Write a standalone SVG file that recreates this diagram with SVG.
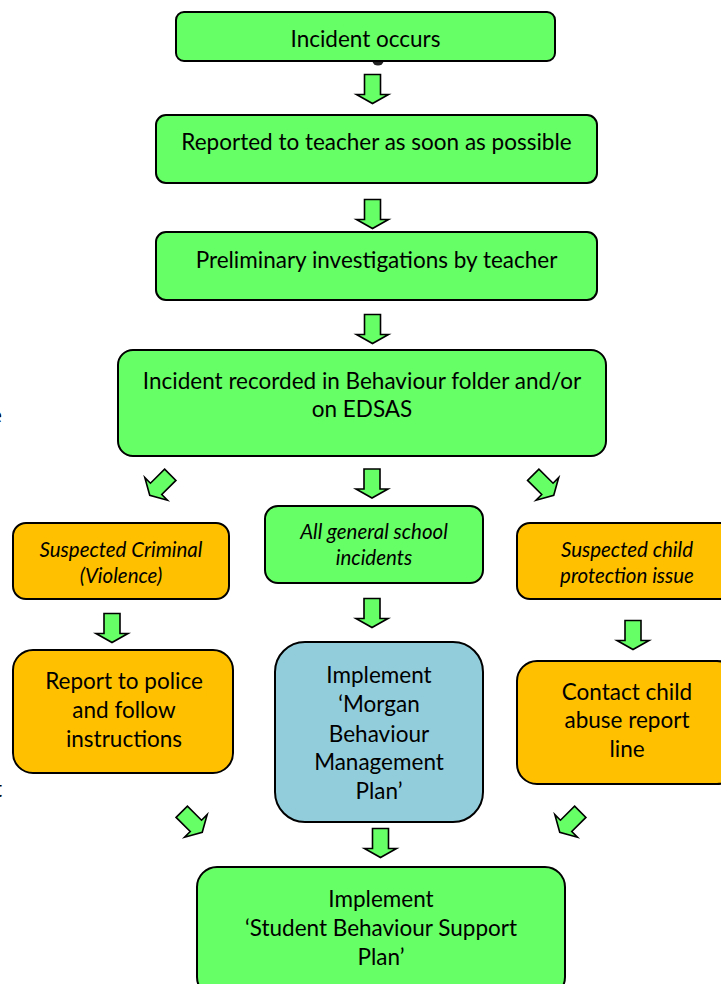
<svg xmlns="http://www.w3.org/2000/svg" width="721" height="984" viewBox="0 0 721 984">
<style>
.g{fill:#66FF66;stroke:#000;stroke-width:2}
.o{fill:#FFC000;stroke:#000;stroke-width:2}
.b{fill:#92CDDC;stroke:#000;stroke-width:2}
text{font-family:Lato,"Open Sans","Liberation Sans",sans-serif;fill:#000;text-anchor:middle}
.t{font-size:22.5px}
.i{font-size:20.5px;font-style:italic}
.s{text-anchor:start}
.arr{fill:#66FF66;stroke:#000;stroke-width:1.6;stroke-linejoin:miter}
</style>
<defs>
<path id="dn" class="arr" d="M-8,-14.5 H8 V5.5 H16 L0,14.5 L-16,5.5 H-8 Z"/>
</defs>
<rect width="721" height="984" fill="#fff"/>
<text class="t s" x="-10" y="423">e</text>
<text class="t s" x="-6" y="797">t</text>
<g id="connectors">
<ellipse cx="378" cy="61" rx="5.5" ry="4.5" fill="#222"/>
<use href="#dn" transform="translate(372.5,89)"/>
<use href="#dn" transform="translate(372.5,214)"/>
<use href="#dn" transform="translate(372.5,329)"/>
<use href="#dn" transform="translate(372,483.5)"/>
<use href="#dn" transform="translate(160,485) rotate(45)"/>
<use href="#dn" transform="translate(543.5,485) rotate(-45)"/>
<use href="#dn" transform="translate(112,628)"/>
<use href="#dn" transform="translate(372,613)"/>
<use href="#dn" transform="translate(633,635)"/>
<use href="#dn" transform="translate(192,822) rotate(-45)"/>
<use href="#dn" transform="translate(570,822) rotate(45)"/>
<use href="#dn" transform="translate(380.5,843)"/>
</g>
<g id="incident">
<rect class="g" x="176" y="12" width="379" height="49" rx="8"/>
<text class="t" x="365.5" y="47">Incident occurs</text>
</g>
<g id="reported">
<rect class="g" x="156" y="115" width="441" height="68" rx="10"/>
<text class="t" x="376.5" y="150">Reported to teacher as soon as possible</text>
</g>
<g id="preliminary">
<rect class="g" x="156" y="232" width="441" height="68" rx="10"/>
<text class="t" x="376.5" y="268">Preliminary investigations by teacher</text>
</g>
<g id="recorded">
<rect class="g" x="118" y="350" width="488" height="106" rx="15"/>
<text class="t" x="362" y="389">Incident recorded in Behaviour folder and/or</text>
<text class="t" x="362" y="417">on EDSAS</text>
</g>
<g id="criminal">
<rect class="o" x="13" y="523" width="216" height="76" rx="13"/>
<text class="i" x="121" y="557">Suspected Criminal</text>
<text class="i" x="121" y="583">(Violence)</text>
</g>
<g id="general">
<rect class="g" x="265" y="506" width="218" height="77" rx="13"/>
<text class="i" x="374" y="539">All general school</text>
<text class="i" x="374" y="565">incidents</text>
</g>
<g id="childprotection">
<rect class="o" x="517" y="523" width="220" height="76" rx="13"/>
<text class="i" x="627" y="557">Suspected child</text>
<text class="i" x="627" y="583">protection issue</text>
</g>
<g id="police">
<rect class="o" x="13" y="650" width="220" height="123" rx="20"/>
<text class="t" x="124" y="689">Report to police</text>
<text class="t" x="124" y="718">and follow</text>
<text class="t" x="124" y="747">instructions</text>
</g>
<g id="morgan">
<rect class="b" x="275" y="642" width="208" height="180" rx="30"/>
<text class="t" x="379" y="683">Implement</text>
<text class="t" x="379" y="712">‘Morgan</text>
<text class="t" x="379" y="742">Behaviour</text>
<text class="t" x="379" y="770">Management</text>
<text class="t" x="379" y="799">Plan’</text>
</g>
<g id="abuseline">
<rect class="o" x="517" y="661" width="220" height="123" rx="20"/>
<text class="t" x="627" y="700">Contact child</text>
<text class="t" x="627" y="728">abuse report</text>
<text class="t" x="627" y="757">line</text>
</g>
<g id="support">
<rect class="g" x="197" y="867" width="368" height="130" rx="20"/>
<text class="t" x="381" y="907">Implement</text>
<text class="t" x="381" y="936">‘Student Behaviour Support</text>
<text class="t" x="381" y="965">Plan’</text>
</g>
</svg>
